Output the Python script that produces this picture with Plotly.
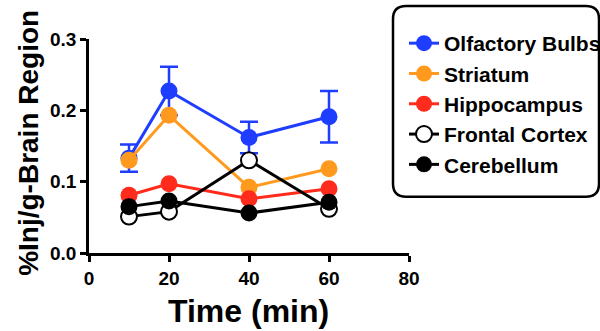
import plotly.graph_objects as go

time_min = [10, 20, 40, 60]
olfactory = [0.133, 0.227, 0.162, 0.191]
olfactory_err = [0.019, 0.034, 0.022, 0.036]
striatum = [0.130, 0.193, 0.092, 0.118]
hippocampus = [0.081, 0.097, 0.076, 0.090]
frontal = [0.051, 0.058, 0.130, 0.062]
cerebellum = [0.065, 0.073, 0.056, 0.071]

x_ticks = [0, 20, 40, 60, 80]
y_ticks = [0.0, 0.1, 0.2, 0.3]
y_tick_labels = ["0.0", "0.1", "0.2", "0.3"]

BLUE = "#1f3dff"
ORANGE = "#ff9a1e"
RED = "#ff2b1c"
FONT = "Liberation Sans, Arial, sans-serif"

fig = go.Figure()

fig.add_trace(go.Scatter(
    x=time_min, y=olfactory, name="<b>Olfactory Bulbs</b>", mode="lines+markers",
    line=dict(color=BLUE, width=3), marker=dict(color=BLUE, size=17),
    error_y=dict(type="data", array=olfactory_err, color=BLUE, thickness=2.5, width=9),
))
fig.add_trace(go.Scatter(
    x=time_min, y=striatum, name="<b>Striatum</b>", mode="lines+markers",
    line=dict(color=ORANGE, width=3), marker=dict(color=ORANGE, size=17),
))
fig.add_trace(go.Scatter(
    x=time_min, y=hippocampus, name="<b>Hippocampus</b>", mode="lines+markers",
    line=dict(color=RED, width=3), marker=dict(color=RED, size=17),
))
fig.add_trace(go.Scatter(
    x=time_min, y=frontal, name="<b>Frontal Cortex</b>", mode="lines+markers",
    line=dict(color="black", width=3),
    marker=dict(color="white", size=16, line=dict(color="black", width=2)),
))
fig.add_trace(go.Scatter(
    x=time_min, y=cerebellum, name="<b>Cerebellum</b>", mode="lines+markers",
    line=dict(color="black", width=3), marker=dict(color="black", size=17),
))

# geometry helpers (pixel -> paper)
px0, pw = 89, 320
py0, ph = 253.3, 214.3
def fx(p): return (p - px0) / pw
def fy(p): return (py0 - p) / ph

# rounded legend frame
L, R, T, B = 393, 599, 6, 197
r = 13
rx, ry = r / pw, r / ph
x0, x1, y0, y1 = fx(L), fx(R), fy(B), fy(T)
path = (f"M {x0+rx},{y1} L {x1-rx},{y1} Q {x1},{y1} {x1},{y1-ry} "
        f"L {x1},{y0+ry} Q {x1},{y0} {x1-rx},{y0} L {x0+rx},{y0} "
        f"Q {x0},{y0} {x0},{y0+ry} L {x0},{y1-ry} Q {x0},{y1} {x0+rx},{y1} Z")
fig.add_shape(type="path", xref="paper", yref="paper", path=path,
              line=dict(color="black", width=2.5), fillcolor="rgba(0,0,0,0)")

fig.add_annotation(text="<b>Time (min)</b>", xref="paper", yref="paper",
                   x=fx(248), y=fy(311), xanchor="center", yanchor="middle",
                   showarrow=False, font=dict(family=FONT, size=32, color="black"))
fig.add_annotation(text="<b>%Inj/g-Brain Region</b>", xref="paper", yref="paper",
                   x=fx(29), y=fy(143), xanchor="center", yanchor="middle", textangle=-90,
                   showarrow=False, font=dict(family=FONT, size=28, color="black"))

fig.update_layout(
    width=600, height=331,
    margin=dict(l=89, r=191, t=39, b=78, autoexpand=False),
    plot_bgcolor="white", paper_bgcolor="white",
    font=dict(family=FONT, color="black"),
    showlegend=True,
    legend=dict(
        x=fx(404), y=fy(23), xanchor="left", yanchor="top",
        bgcolor="rgba(0,0,0,0)", borderwidth=0,
        font=dict(family=FONT, size=21, color="black"),
        tracegroupgap=0, itemwidth=30,
    ),
    xaxis=dict(
        range=[0, 80], tickvals=x_ticks, ticktext=[f"<b>{v}</b>" for v in x_ticks],
        showgrid=False, zeroline=False, showline=True, linecolor="black", linewidth=2.5,
        ticks="outside", ticklen=6, tickwidth=2.5, tickcolor="black",
        tickfont=dict(family=FONT, size=19), automargin=False,
    ),
    yaxis=dict(
        range=[0, 0.3], tickvals=y_ticks, ticktext=[f"<b>{t}</b>" for t in y_tick_labels],
        showgrid=False, zeroline=False, showline=True, linecolor="black", linewidth=2.5,
        ticks="outside", ticklen=6, tickwidth=2.5, tickcolor="black",
        tickfont=dict(family=FONT, size=19), automargin=False,
    ),
)

fig.write_html("out.html", config={"displayModeBar": False},
               post_script="document.body.style.margin='0';document.body.style.padding='0';")
